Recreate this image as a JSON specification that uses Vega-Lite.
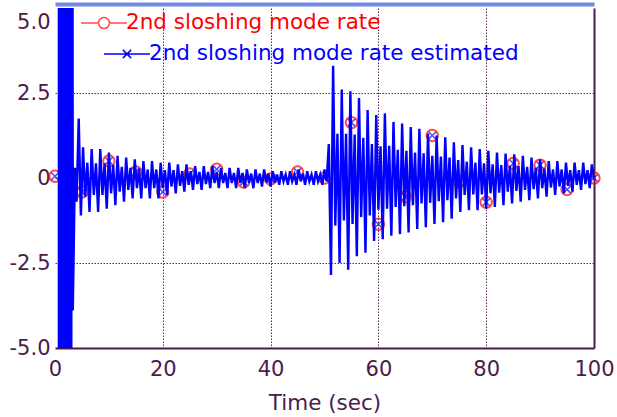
{
"$schema": "https://vega.github.io/schema/vega-lite/v6.json",
"autosize": {"type": "none"},
"width": 539, "height": 340,
"padding": {"left": 55, "top": 8, "right": 23, "bottom": 69},
"background": "white",
"config": {"view": {"stroke": null}, "font": "DejaVu Sans"},
"datasets": {
"burst": [{"t":0.5,"lo":-7,"hi":7},{"t":3.25,"lo":-7,"hi":7}],
"ref": [
{"t":0,"v":0.05},{"t":5,"v":-0.41},{"t":10,"v":0.5},{"t":15,"v":0.18},{"t":20,"v":-0.41},{"t":25,"v":0.12},{"t":30,"v":0.26},{"t":35,"v":-0.12},{"t":40,"v":-0.03},{"t":45,"v":0.18},{"t":50,"v":0.0},{"t":55,"v":1.63},{"t":60,"v":-1.36},{"t":65,"v":-0.55},{"t":70,"v":1.25},{"t":75,"v":-0.11},{"t":80,"v":-0.71},{"t":85,"v":0.43},{"t":90,"v":0.38},{"t":95,"v":-0.34},{"t":100,"v":0.0}
],
"est": [
{"t":3.25,"v":7},
{"t":3.3,"v":-3.9},{"t":3.7,"v":0.3},{"t":4.0,"v":-0.7},{"t":4.4,"v":1.75},
{"t":4.8,"v":-1.1},{"t":5.2,"v":0.9},{"t":5.6,"v":-0.55},{"t":6.0,"v":0.45},
{"t":6.4,"v":-1.0},{"t":6.8,"v":0.85},{"t":7.2,"v":-0.5},{"t":7.6,"v":0.43},
{"t":8.0,"v":-1.0},{"t":8.4,"v":0.85},{"t":8.8,"v":-0.5},{"t":9.2,"v":0.43},
{"t":9.6,"v":-0.9},{"t":10.0,"v":0.75},{"t":10.4,"v":-0.45},{"t":10.8,"v":0.38},
{"t":11.2,"v":-0.8},{"t":11.6,"v":0.65},{"t":12.0,"v":-0.4},{"t":12.4,"v":0.33},
{"t":12.8,"v":-0.7},{"t":13.2,"v":0.6},{"t":13.6,"v":-0.35},{"t":14.0,"v":0.3},
{"t":14.4,"v":-0.6},{"t":14.8,"v":0.55},{"t":15.2,"v":-0.3},{"t":15.6,"v":0.28},
{"t":16.0,"v":-0.6},{"t":16.4,"v":0.5},{"t":16.8,"v":-0.3},{"t":17.2,"v":0.25},
{"t":17.6,"v":-0.6},{"t":18.0,"v":0.5},{"t":18.4,"v":-0.3},{"t":18.8,"v":0.25},
{"t":19.2,"v":-0.6},{"t":19.6,"v":0.45},{"t":20.0,"v":-0.3},{"t":20.4,"v":0.23},
{"t":20.8,"v":-0.5},{"t":21.2,"v":0.45},{"t":21.6,"v":-0.25},{"t":22.0,"v":0.23},
{"t":22.4,"v":-0.45},{"t":22.8,"v":0.4},{"t":23.2,"v":-0.23},{"t":23.6,"v":0.2},
{"t":24.0,"v":-0.4},{"t":24.4,"v":0.4},{"t":24.8,"v":-0.2},{"t":25.2,"v":0.2},
{"t":25.6,"v":-0.35},{"t":26.0,"v":0.35},{"t":26.4,"v":-0.18},{"t":26.8,"v":0.18},
{"t":27.2,"v":-0.35},{"t":27.6,"v":0.35},{"t":28.0,"v":-0.18},{"t":28.4,"v":0.18},
{"t":28.8,"v":-0.3},{"t":29.2,"v":0.35},{"t":29.6,"v":-0.15},{"t":30.0,"v":0.18},
{"t":30.4,"v":-0.3},{"t":30.8,"v":0.3},{"t":31.2,"v":-0.15},{"t":31.6,"v":0.15},
{"t":32.0,"v":-0.3},{"t":32.4,"v":0.3},{"t":32.8,"v":-0.15},{"t":33.2,"v":0.15},
{"t":33.6,"v":-0.3},{"t":34.0,"v":0.3},{"t":34.4,"v":-0.15},{"t":34.8,"v":0.15},
{"t":35.2,"v":-0.3},{"t":35.6,"v":0.25},{"t":36.0,"v":-0.15},{"t":36.4,"v":0.13},
{"t":36.8,"v":-0.3},{"t":37.2,"v":0.25},{"t":37.6,"v":-0.15},{"t":38.0,"v":0.13},
{"t":38.4,"v":-0.25},{"t":38.8,"v":0.25},{"t":39.2,"v":-0.13},{"t":39.6,"v":0.13},
{"t":40.0,"v":-0.25},{"t":40.4,"v":0.2},{"t":40.8,"v":-0.13},{"t":41.2,"v":0.1},
{"t":41.6,"v":-0.2},{"t":42.0,"v":0.2},{"t":42.4,"v":-0.1},{"t":42.8,"v":0.1},
{"t":43.2,"v":-0.2},{"t":43.6,"v":0.2},{"t":44.0,"v":-0.1},{"t":44.4,"v":0.1},
{"t":44.8,"v":-0.2},{"t":45.2,"v":0.25},{"t":45.6,"v":-0.1},{"t":46.0,"v":0.13},
{"t":46.4,"v":-0.2},{"t":46.8,"v":0.2},{"t":47.2,"v":-0.1},{"t":47.6,"v":0.1},
{"t":48.0,"v":-0.2},{"t":48.4,"v":0.2},{"t":48.8,"v":-0.1},{"t":49.2,"v":0.1},
{"t":49.6,"v":-0.2},{"t":50.0,"v":0.25},{"t":50.4,"v":-0.1},{"t":50.8,"v":1.0},
{"t":51.2,"v":-2.85},{"t":51.6,"v":3.3},{"t":52.0,"v":-1.4},{"t":52.4,"v":1.3},
{"t":52.8,"v":-2.5},{"t":53.2,"v":2.6},{"t":53.6,"v":-1.25},{"t":54.0,"v":1.3},
{"t":54.4,"v":-2.7},{"t":54.8,"v":2.55},{"t":55.2,"v":-1.35},{"t":55.6,"v":1.28},
{"t":56.0,"v":-2.3},{"t":56.4,"v":2.35},{"t":56.8,"v":-1.15},{"t":57.2,"v":1.18},
{"t":57.6,"v":-2.2},{"t":58.0,"v":2.0},{"t":58.4,"v":-1.1},{"t":58.8,"v":1.0},
{"t":59.2,"v":-1.85},{"t":59.6,"v":1.85},{"t":60.0,"v":-0.93},{"t":60.4,"v":0.93},
{"t":60.8,"v":-1.8},{"t":61.2,"v":1.9},{"t":61.6,"v":-0.9},{"t":62.0,"v":0.95},
{"t":62.4,"v":-1.7},{"t":62.8,"v":1.65},{"t":63.2,"v":-0.85},{"t":63.6,"v":0.83},
{"t":64.0,"v":-1.65},{"t":64.4,"v":1.6},{"t":64.8,"v":-0.83},{"t":65.2,"v":0.8},
{"t":65.6,"v":-1.6},{"t":66.0,"v":1.5},{"t":66.4,"v":-0.8},{"t":66.8,"v":0.75},
{"t":67.2,"v":-1.5},{"t":67.6,"v":1.45},{"t":68.0,"v":-0.75},{"t":68.4,"v":0.73},
{"t":68.8,"v":-1.45},{"t":69.2,"v":1.3},{"t":69.6,"v":-0.73},{"t":70.0,"v":0.65},
{"t":70.4,"v":-1.35},{"t":70.8,"v":1.25},{"t":71.2,"v":-0.68},{"t":71.6,"v":0.63},
{"t":72.0,"v":-1.3},{"t":72.4,"v":1.2},{"t":72.8,"v":-0.65},{"t":73.2,"v":0.6},
{"t":73.6,"v":-1.2},{"t":74.0,"v":1.05},{"t":74.4,"v":-0.6},{"t":74.8,"v":0.53},
{"t":75.2,"v":-1.0},{"t":75.6,"v":0.97},{"t":76.0,"v":-0.5},{"t":76.4,"v":0.48},
{"t":76.8,"v":-0.95},{"t":77.2,"v":0.9},{"t":77.6,"v":-0.48},{"t":78.0,"v":0.45},
{"t":78.4,"v":-0.95},{"t":78.8,"v":0.85},{"t":79.2,"v":-0.48},{"t":79.6,"v":0.43},
{"t":80.0,"v":-0.9},{"t":80.4,"v":0.8},{"t":80.8,"v":-0.45},{"t":81.2,"v":0.4},
{"t":81.6,"v":-0.85},{"t":82.0,"v":0.75},{"t":82.4,"v":-0.43},{"t":82.8,"v":0.38},
{"t":83.2,"v":-0.8},{"t":83.6,"v":0.72},{"t":84.0,"v":-0.4},{"t":84.4,"v":0.36},
{"t":84.8,"v":-0.75},{"t":85.2,"v":0.7},{"t":85.6,"v":-0.38},{"t":86.0,"v":0.35},
{"t":86.4,"v":-0.7},{"t":86.8,"v":0.65},{"t":87.2,"v":-0.35},{"t":87.6,"v":0.33},
{"t":88.0,"v":-0.65},{"t":88.4,"v":0.6},{"t":88.8,"v":-0.33},{"t":89.2,"v":0.3},
{"t":89.6,"v":-0.6},{"t":90.0,"v":0.55},{"t":90.4,"v":-0.3},{"t":90.8,"v":0.28},
{"t":91.2,"v":-0.55},{"t":91.6,"v":0.5},{"t":92.0,"v":-0.28},{"t":92.4,"v":0.25},
{"t":92.8,"v":-0.5},{"t":93.2,"v":0.5},{"t":93.6,"v":-0.25},{"t":94.0,"v":0.25},
{"t":94.4,"v":-0.45},{"t":94.8,"v":0.45},{"t":95.2,"v":-0.23},{"t":95.6,"v":0.23},
{"t":96.0,"v":-0.4},{"t":96.4,"v":0.45},{"t":96.8,"v":-0.2},{"t":97.2,"v":0.23},
{"t":97.6,"v":-0.35},{"t":98.0,"v":0.45},{"t":98.4,"v":-0.18},{"t":98.8,"v":0.23},
{"t":99.2,"v":-0.3},{"t":99.6,"v":0.4},{"t":100.0,"v":0.0}
]
},
"layer": [
{
"data": {"name": "ref"},
"mark": {"type": "point", "shape": "circle", "filled": false, "size": 130, "strokeWidth": 2, "clip": false},
"encoding": {
"x": {"field": "t", "type": "quantitative", "scale": {"domain": [0, 100], "nice": false, "zero": false},
"axis": {"orient": "top", "labels": false, "ticks": false, "grid": false, "title": null, "domainColor": "#6f8ae0", "domainWidth": 4, "offset": 4}},
"y": {"field": "v", "type": "quantitative", "scale": {"domain": [-5, 5], "nice": false, "zero": false},
"axis": {"orient": "right", "labels": false, "ticks": false, "grid": false, "title": null, "domainColor": "#4b1b4b", "domainWidth": 2}},
"color": {"datum": "2nd sloshing mode rate", "type": "nominal", "scale": {"range": ["#ff0000"]},
"legend": {"orient": "none", "legendX": 25, "legendY": -9, "title": null, "padding": 0,
"symbolType": "M-1,0H-0.24M0.24,0H1M-0.24,0A0.24,0.24,0,1,0,0.24,0A0.24,0.24,0,1,0,-0.24,0",
"symbolSize": 2116, "symbolStrokeWidth": 1.5, "symbolStrokeColor": "#ff0000", "symbolFillColor": "transparent",
"labelFontSize": 21.5, "labelColor": "#ff0000", "labelOffset": -2, "labelLimit": 0, "labelFont": "DejaVu Sans"}}
}
},
{
"data": {"name": "burst"},
"mark": {"type": "area", "color": "#0000ff", "clip": true, "opacity": 1},
"encoding": {
"x": {"field": "t", "type": "quantitative", "axis": null},
"y": {"field": "lo", "type": "quantitative", "axis": null},
"y2": {"field": "hi"}
}
},
{
"data": {"name": "est"},
"mark": {"type": "line", "strokeWidth": 2.4, "clip": true},
"encoding": {
"x": {"field": "t", "type": "quantitative", "scale": {"domain": [0, 100], "nice": false, "zero": false},
"axis": {"orient": "bottom", "values": [0, 20, 40, 60, 80, 100], "title": "Time (sec)",
"labelFontSize": 21, "labelFont": "DejaVu Sans", "labelColor": "#4b1b4b", "labelPadding": 10, "labelFlush": false, "labelOverlap": false,
"ticks": false, "domainColor": "#4b1b4b", "domainWidth": 2,
"grid": true, "gridColor": "#5a2a5a", "gridDash": [1.5, 1.5], "gridWidth": 1,
"gridOpacity": {"condition": {"test": "datum.value == 0 || datum.value == 100", "value": 0}, "value": 1},
"titleFont": "DejaVu Sans", "titleFontSize": 21.5, "titleFontWeight": "normal", "titleColor": "#4b1b4b", "titlePadding": 13}},
"y": {"field": "v", "type": "quantitative", "scale": {"domain": [-5, 5], "nice": false, "zero": false},
"axis": {"orient": "left", "values": [-5, -2.5, 0, 2.5, 5], "title": null,
"labelExpr": "datum.value == 0 ? '0' : (datum.value < 0 ? '-' : '') + format(abs(datum.value), '.1f')",
"labelFontSize": 21, "labelFont": "DejaVu Sans", "labelColor": "#4b1b4b", "labelPadding": 5, "labelFlush": false, "labelOverlap": false,
"labelOffset": {"condition": {"test": "datum.value == 5", "value": 14}, "value": 0},
"ticks": false, "domain": false,
"grid": true, "gridColor": "#5a2a5a", "gridDash": [1.5, 1.5], "gridWidth": 1,
"gridOpacity": {"condition": {"test": "datum.value == 5 || datum.value == -5", "value": 0}, "value": 1}}},
"color": {"datum": "2nd sloshing mode rate estimated", "type": "nominal", "scale": {"range": ["#0000ff"]},
"legend": {"orient": "none", "legendX": 48, "legendY": 22, "title": null, "padding": 0,
"symbolType": "M-1,0H1M-0.18,-0.18L0.18,0.18M-0.18,0.18L0.18,-0.18",
"symbolSize": 2116, "symbolStrokeWidth": 1.5, "symbolStrokeColor": "#0000ff", "symbolFillColor": "transparent",
"labelFontSize": 21.5, "labelColor": "#0000ff", "labelOffset": -2, "labelLimit": 0, "labelFont": "DejaVu Sans"}}
}
},
{
"data": {"name": "ref"},
"mark": {"type": "point", "shape": "M-1,-1L1,1M-1,1L1,-1", "filled": false, "size": 50, "strokeWidth": 1.5, "color": "#0000ff"},
"encoding": {
"x": {"field": "t", "type": "quantitative", "axis": null},
"y": {"field": "v", "type": "quantitative", "axis": null}
}
}
],
"resolve": {"scale": {"color": "independent"}, "axis": {"x": "independent", "y": "independent"}}
}
